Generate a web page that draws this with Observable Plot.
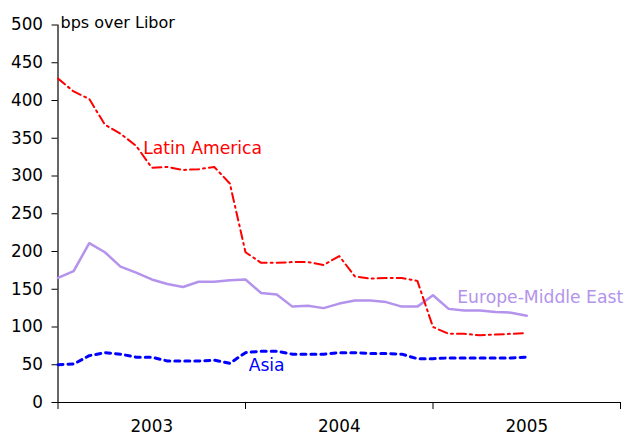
<!DOCTYPE html>
<html><head><meta charset="utf-8">
<script src="https://cdn.jsdelivr.net/npm/d3@7"></script>
<script src="https://cdn.jsdelivr.net/npm/@observablehq/plot@0.6"></script>
<style>body{margin:0;background:#fff}</style>
</head><body><div id="chart"></div>
<script>
// monthly index 0 = Jan 2003
const years = ["2003", "2004", "2005"];
const yearCenters = [6, 18, 30];
const yearBounds = [0, 12, 24, 36];
const latinAmerica = [429, 412, 402, 368, 356, 340, 311, 312, 308, 309, 312, 290, 199, 185, 185, 186, 186, 182, 194, 167, 164, 165, 165, 161, 100, 91, 91, 89, 90, 91, 92];
const europeMiddleEast = [165, 174, 211, 199, 180, 172, 163, 157, 153, 160, 160, 162, 163, 145, 143, 127, 128, 125, 131, 135, 135, 133, 127, 127, 142, 124, 122, 122, 120, 119, 115];
const asia = [50, 51, 62, 66, 64, 60, 60, 55, 55, 55, 56, 52, 66, 68, 68, 64, 64, 64, 66, 66, 65, 65, 64, 58, 58, 59, 59, 59, 59, 59, 60];
const seriesLabels = ["Latin America", "Europe-Middle East", "Asia"];
const labelX = [5.45, 25.55, 12.2];
const labelY = [336, 139, 49];
const colors = ["#ff0000", "#b393ec", "#0000ff"];

const toRows = arr => arr.map((v, i) => ({i, v}));
const font = "DejaVu Sans, Verdana, sans-serif";

const chart = Plot.plot({
  width: 628,
  height: 436,
  marginLeft: 57.5,
  marginRight: 8,
  marginTop: 24.5,
  marginBottom: 34,
  style: {fontFamily: font, fontSize: "16px", color: "#000", background: "#fff"},
  x: {type: "linear", domain: [0, 36]},
  y: {domain: [0, 500]},
  marks: [
    Plot.axisY(d3.range(0, 501, 50), {tickSize: 6, tickPadding: 9, fontSize: 16.8, label: null, stroke: "#000"}),
    Plot.axisX(yearBounds, {tickSize: 7, tickFormat: () => "", label: null, stroke: "#000"}),
    Plot.axisX(yearCenters, {tickSize: 0, tickPadding: 17.5, fontSize: 16.8, label: null, tickFormat: (d, k) => years[k]}),
    Plot.ruleY([0], {x1: 0, x2: 36, stroke: "#000", strokeWidth: 1.2}),
    Plot.ruleX([0], {y1: 0, y2: 500, stroke: "#000", strokeWidth: 1.2}),
    Plot.line(toRows(europeMiddleEast), {x: "i", y: "v", stroke: colors[1], strokeWidth: 2.5}),
    Plot.line(toRows(latinAmerica), {x: "i", y: "v", stroke: colors[0], strokeWidth: 2, strokeDasharray: "9,4,2,4"}),
    Plot.line(toRows(asia), {x: "i", y: "v", stroke: colors[2], strokeWidth: 3, strokeDasharray: "5,5"}),
    Plot.text(seriesLabels, {x: (d, k) => labelX[k], y: (d, k) => labelY[k], text: d => d, fill: (d, k) => colors[k], textAnchor: "start", lineAnchor: "middle", fontSize: 17.2}),
    Plot.text(["bps over Libor"], {x: 0, y: 500, dx: 2.5, dy: 3, text: d => d, textAnchor: "start", lineAnchor: "bottom", fontSize: 16, fill: "#000"})
  ]
});
document.getElementById("chart").appendChild(chart);
</script>
</body></html>
